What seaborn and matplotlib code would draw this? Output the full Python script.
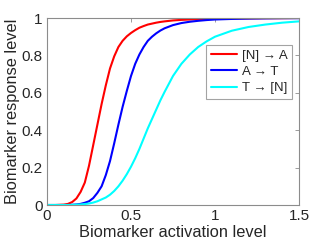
import matplotlib
matplotlib.use("Agg")
import matplotlib.pyplot as plt
import pandas as pd
import seaborn as sns

# activation levels (x) shared by the three curves
activation = [0.0, 0.05, 0.1, 0.125, 0.15, 0.175, 0.2, 0.225, 0.25, 0.275,
              0.3, 0.325, 0.35, 0.375, 0.4, 0.425, 0.45, 0.475, 0.5, 0.525,
              0.55, 0.575, 0.6, 0.625, 0.65, 0.675, 0.7, 0.75, 0.8, 0.85,
              0.9, 0.95, 1.0, 1.1, 1.2, 1.3, 1.4, 1.5]

# response levels
n_to_a = [0.0, 0.0, 0.002, 0.006, 0.016, 0.035, 0.07, 0.12, 0.21, 0.32,
          0.43, 0.54, 0.64, 0.73, 0.795, 0.845, 0.878, 0.902, 0.92, 0.935,
          0.948, 0.957, 0.965, 0.97, 0.975, 0.979, 0.982, 0.987, 0.99, 0.992,
          0.994, 0.995, 0.996, 0.998, 0.998, 0.999, 0.999, 1.0]
a_to_t = [0.0, 0.0, 0.0, 0.0, 0.001, 0.003, 0.006, 0.012, 0.02, 0.037,
          0.065, 0.10, 0.16, 0.235, 0.33, 0.43, 0.525, 0.61, 0.69, 0.755,
          0.805, 0.845, 0.878, 0.90, 0.918, 0.933, 0.945, 0.962, 0.973, 0.98,
          0.985, 0.989, 0.992, 0.995, 0.997, 0.998, 0.999, 0.999]
t_to_n = [0.0, 0.0, 0.0, 0.0, 0.001, 0.002, 0.003, 0.005, 0.008, 0.013,
          0.02, 0.03, 0.04, 0.055, 0.075, 0.10, 0.13, 0.165, 0.205, 0.25,
          0.30, 0.355, 0.41, 0.46, 0.51, 0.56, 0.605, 0.69, 0.755, 0.805,
          0.845, 0.875, 0.90, 0.932, 0.952, 0.965, 0.975, 0.982]

labels = ["[N] \u2192 A", "A \u2192 T", "T \u2192 [N]"]
colors = ["#ff0000", "#0000ff", "#00ffff"]

df = pd.DataFrame({
    "x": activation * 3,
    "y": n_to_a + a_to_t + t_to_n,
    "curve": [labels[0]] * len(activation) + [labels[1]] * len(activation)
             + [labels[2]] * len(activation),
})

sns.set_style("white")
plt.rcParams["font.family"] = ["Liberation Sans", "DejaVu Sans"]

fig = plt.figure(figsize=(3.32, 2.49), dpi=100)
ax = fig.add_axes([0.1416, 0.1767, 0.7590, 0.7510])

sns.lineplot(data=df, x="x", y="y", hue="curve", palette=colors,
             linewidth=1.5, ax=ax, legend=True)

ax.set_xlim(0, 1.5)
ax.set_ylim(0, 1)
ax.set_xticks([0, 0.5, 1, 1.5])
ax.set_xticklabels(["0", "0.5", "1", "1.5"])
ax.set_yticks([0, 0.2, 0.4, 0.6, 0.8, 1])
ax.set_yticklabels(["0", "0.2", "0.4", "0.6", "0.8", "1"])
ax.tick_params(direction="in", top=True, right=True, length=3, width=0.6,
               color="#8c8c8c", labelsize=11, labelcolor="#262626", pad=3)
for sp in ax.spines.values():
    sp.set_color("#8c8c8c")
    sp.set_linewidth(0.8)

ax.set_xlabel("Biomarker activation level", fontsize=11.8, color="#262626",
              labelpad=1)
ax.set_ylabel("Biomarker response level", fontsize=11.8, color="#262626",
              labelpad=1.5)

leg = ax.legend(loc="upper right", bbox_to_anchor=(0.972, 0.856),
                borderaxespad=0, fontsize=9.5, frameon=True, fancybox=False,
                handlelength=2.0, handletextpad=0.35, borderpad=0.35,
                labelspacing=0.3)
leg.get_frame().set_edgecolor("#8c8c8c")
leg.get_frame().set_linewidth(0.8)

fig.savefig("out.png", dpi=100)
